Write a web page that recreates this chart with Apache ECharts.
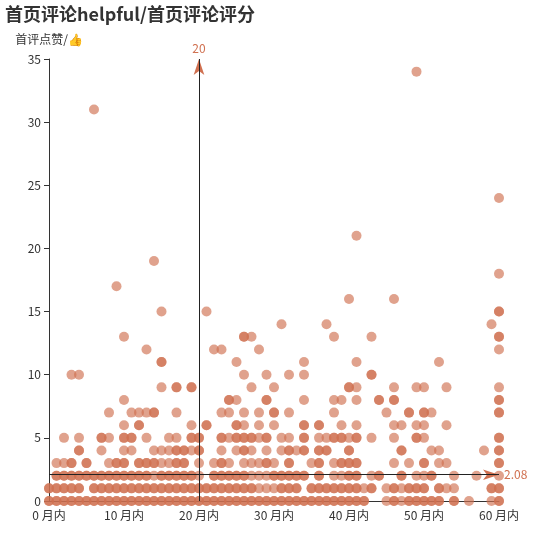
<!DOCTYPE html>
<html><head><meta charset="utf-8">
<script src="https://cdn.jsdelivr.net/npm/echarts@6/dist/echarts.min.js"></script>
<style>html,body{margin:0;padding:0;background:#fff}#chart{width:538px;height:538px}</style>
</head><body><div id="chart"></div>
<script>
const titleText = '首页评论helpful/首页评论评分';
const yAxisName = '首评点赞/👍';
const xTickSuffix = ' 月内';
const xMin = 0, xMax = 60, xStep = 10;
const yMin = 0, yMax = 35, yStep = 5;
const markMonth = 20;
const meanLikes = 2.08;

// months (x) of the dots found at each like count (y); repeated months = stacked dots
const likes0 = [0,1,2,3,4,5,6,7,8,9,10,11,12,13,14,15,16,17,18,19,20,21,22,23,24,25,26,27,28,29,30,31,32,33,34,35,36,37,38,39,40,41,42,45,46,47,48,49,50,51,52,54,56,59,60];
const likes0More = [0,1,2,3,4,5,6,7,8,9,10,11,12,13,14,15,16,17,18,19,20,21,22,23,24,25,26,27,28,29,30,31,32,33,34,35,36,37,38,39,40,41,42,46,48,49,50,51,52,54,60];
const likes1 = [0,1,2,3,4,6,7,8,9,10,11,12,13,14,15,16,17,18,19,20,21,22,23,24,25,26,27,28,29,30,31,32,33,35,36,37,38,39,40,41,42,43,45,46,47,48,49,50,52,53,54,59,60];
const likes1More = [0,1,2,3,4,6,7,8,9,10,11,12,13,14,15,16,17,18,19,20,21,22,23,24,25,26,27,31,32,33,35,36,37,38,39,40,41,43,46,48,49,50,52,59,60];
const likes2 = [1,2,3,4,5,6,7,8,9,10,11,12,13,14,15,16,17,18,19,20,22,23,24,25,26,27,28,29,30,31,32,33,34,36,38,39,40,41,43,44,47,49,50,51,54,57,60];
const likes2More = [1,2,3,4,5,6,7,8,9,10,11,12,13,15,16,17,18,19,22,23,24,25,26,30,31,32,33,34,36,40,41,44,47,51];
const likes3 = [1,2,3,3,5,5,8,9,9,10,10,12,12,13,13,14,14,15,16,17,17,18,18,20,22,23,23,24,26,27,28,29,29,30,32,32,35,36,36,38,39,39,40,40,41,41,46,48,50,50,52,53,60,60];
const likes4 = [4,4,7,10,11,14,15,16,17,17,18,18,19,20,20,23,25,26,26,27,29,31,32,32,33,34,34,36,36,37,37,40,40,47,47,51,52,58,60,60];
const likes5 = [2,4,7,7,8,10,10,11,11,13,16,17,19,19,20,20,23,23,24,25,25,26,26,27,27,28,29,29,31,32,34,34,36,37,38,38,39,39,40,41,41,43,46,49,49,50,60,60];
const likes6 = [10,12,12,19,21,21,25,25,26,28,30,34,34,36,36,39,41,46,47,49,50,53];
const likes7 = [8,11,12,13,14,14,17,23,24,26,28,30,30,32,38,45,48,48,50,50,51,60,60];
const likes8 = [10,24,24,25,29,29,34,38,39,41,44,44,46,46,60,60];
const likes9 = [15,17,17,19,19,27,30,40,40,41,46,49,50,53,60];
// higher, sparse dots as [month, likes]
const sparsePoints = [
  [3,10],[4,10],[26,10],[29,10],[32,10],[34,10],[43,10],[43,10],
  [15,11],[15,11],[25,11],[34,11],[41,11],[52,11],
  [13,12],[22,12],[23,12],[28,12],[60,12],
  [10,13],[26,13],[26,13],[27,13],[38,13],[43,13],[60,13],[60,13],
  [31,14],[37,14],[59,14],
  [15,15],[21,15],[60,15],[60,15],
  [40,16],[46,16],
  [9,17],[60,18],[14,19],[41,21],[60,24],[6,31],[49,34]
];

const rows = [[0,likes0],[0,likes0More],[1,likes1],[1,likes1More],[2,likes2],[2,likes2More],
  [3,likes3],[4,likes4],[5,likes5],[6,likes6],[7,likes7],[8,likes8],[9,likes9]];
const points = [];
rows.forEach(([y, xs]) => xs.forEach(x => points.push([x, y])));
sparsePoints.forEach(p => points.push(p));

const dotColor = '#d07050';
const markData = [{ xAxis: markMonth }, { yAxis: meanLikes }];
const chart = echarts.init(document.getElementById('chart'));
chart.setOption({
  animation: false,
  textStyle: { fontFamily: '"Microsoft YaHei", "Noto Sans CJK SC", sans-serif' },
  title: { text: titleText, left: 0, top: 0,
    textStyle: { fontSize: 18, fontWeight: 'bold', color: '#333' } },
  grid: { left: 49, right: 39, top: 59, bottom: 37 },
  xAxis: {
    type: 'value', min: xMin, max: xMax, interval: xStep,
    splitLine: { show: false },
    axisLine: { lineStyle: { color: '#333' } },
    axisTick: { show: false },
    axisLabel: { color: '#333', fontSize: 12, formatter: '{value}' + xTickSuffix }
  },
  yAxis: {
    type: 'value', min: yMin, max: yMax, interval: yStep,
    name: yAxisName, nameGap: 14,
    nameTextStyle: { color: '#333', fontSize: 12 },
    splitLine: { show: false },
    axisLine: { show: true, lineStyle: { color: '#333' } },
    axisTick: { show: true },
    axisLabel: { color: '#333', fontSize: 12 }
  },
  series: [{
    type: 'scatter',
    data: points,
    symbolSize: 10,
    itemStyle: { color: dotColor, opacity: 0.65 },
    markLine: {
      silent: true,
      symbol: ['none', 'arrow'],
      lineStyle: { color: dotColor, type: 'solid', width: 0 },
      label: { color: dotColor, fontSize: 12 },
      data: markData
    }
  }, {
    type: 'scatter',
    data: [],
    markLine: {
      silent: true,
      symbol: ['none', 'none'],
      lineStyle: { color: '#222', type: 'solid', width: 1 },
      label: { show: false },
      data: markData
    }
  }]
});
</script></body></html>
